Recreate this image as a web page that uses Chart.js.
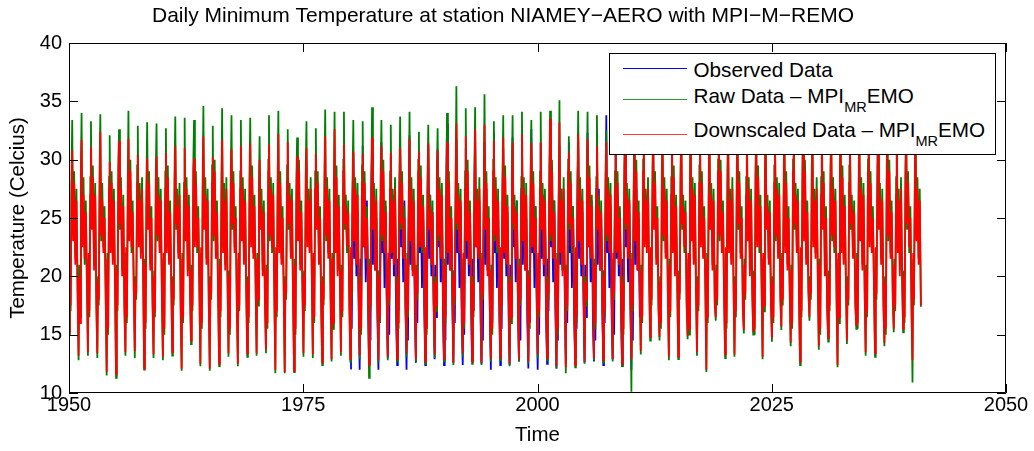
<!DOCTYPE html>
<html>
<head>
<meta charset="utf-8">
<title>Daily Minimum Temperature at station NIAMEY-AERO with MPI-M-REMO</title>
<script src="https://cdn.jsdelivr.net/npm/chart.js@4.4.1/dist/chart.umd.min.js"></script>
<style>
  html, body { margin: 0; padding: 0; background: #fff; }
  #wrap { position: relative; width: 1034px; height: 451px; }
  #legend {
    position: absolute; left: 609px; top: 53px; width: 387px; height: 102px;
    box-sizing: border-box; border: 1.5px solid #000; background: #fff;
    font-family: "Liberation Sans", Arial, Helvetica, sans-serif; font-size: 20.7px; color: #000;
  }
  #legend .swatch { position: absolute; left: 12.5px; width: 64px; height: 1px; }
  #legend .lbl { position: absolute; left: 83.5px; line-height: 20px; white-space: nowrap; }
  #legend .sub { font-size: 14.5px; position: relative; top: 9px; }
</style>
</head>
<body>
<div id="wrap">
  <canvas id="chart" width="1034" height="451"></canvas>
  <div id="legend">
    <div class="swatch" style="top:14px;background:#0000ff"></div>
    <div class="lbl" style="top:5.5px">Observed Data</div>
    <div class="swatch" style="top:45px;background:#2e962e"></div>
    <div class="lbl" style="top:32px">Raw Data – MPI<span class="sub">MR</span>EMO</div>
    <div class="swatch" style="top:80px;background:#ff3b3b"></div>
    <div class="lbl" style="top:66px">Downscaled Data – MPI<span class="sub">MR</span>EMO</div>
  </div>
</div>
<script>
// days of the year at which each row below is sampled
const sampleDays = [8, 35, 65, 100, 125, 160, 200, 245, 290, 335];
const modelStart = 1950;
const observedStart = 1980;
const xTickValues = [1950, 1975, 2000, 2025, 2050];
const yTickValues = [10, 15, 20, 25, 30, 35, 40];

// Downscaled Data - MPI_MR EMO, one row per year 1950..2040
const downscaled = [
  [15.2,21.0,17.5,27.5,30.8,23.0,28.0,21.0,26.5,18.5], [13.2,20.0,16.0,28.5,31.7,22.5,27.0,21.5,25.5,19.5],
  [13.5,22.0,17.0,27.0,31.1,24.0,28.5,20.5,27.0,17.5], [13.4,19.5,18.0,28.0,32.4,23.5,26.5,22.0,25.0,18.0],
  [11.8,21.5,15.5,27.5,29.8,22.0,28.0,21.0,26.5,19.0], [11.6,20.5,17.5,29.0,31.6,24.5,27.5,20.0,26.0,17.0],
  [13.5,22.5,16.5,26.5,31.8,23.0,29.0,22.5,25.5,18.5], [13.6,19.5,18.5,28.0,30.4,22.5,26.5,21.5,27.5,20.0],
  [12.1,21.0,16.0,27.0,30.1,24.0,28.0,20.5,25.0,17.5], [13.3,20.0,17.0,28.5,30.3,23.5,27.0,22.0,26.5,18.0],
  [13.1,22.0,15.5,27.5,30.6,22.0,28.5,21.0,25.5,19.5], [13.5,19.5,18.0,28.0,31.2,24.5,26.0,21.5,27.0,17.0],
  [12.1,21.5,16.5,26.5,31.0,23.0,27.5,20.0,26.0,18.5], [14.5,20.5,17.5,29.0,30.1,22.5,28.0,22.5,25.0,19.0],
  [12.5,22.5,16.0,27.5,32.0,24.0,27.0,21.0,26.5,17.5], [12.1,19.5,18.5,28.0,30.2,23.5,29.0,21.5,25.5,18.0],
  [12.5,21.0,17.0,27.0,31.7,22.0,26.5,20.5,27.5,20.0], [13.4,20.0,15.5,28.5,30.9,24.5,28.0,22.0,25.0,17.0],
  [12.5,22.0,17.5,27.5,31.2,23.0,27.5,21.0,26.5,18.5], [13.4,19.5,16.5,28.0,31.4,22.5,28.5,21.5,26.0,19.5],
  [13.4,21.5,18.0,26.5,30.0,24.0,26.0,20.0,25.5,17.5], [13.7,20.5,16.0,29.0,31.3,23.5,27.5,22.5,27.0,18.0],
  [12.0,22.5,17.0,27.5,32.2,22.0,28.0,21.0,25.0,19.0], [11.8,19.5,18.5,28.0,31.5,24.5,27.0,21.5,26.5,17.5],
  [11.9,21.0,15.5,27.0,30.3,23.0,29.0,20.5,25.5,18.5], [13.4,20.0,17.5,28.5,31.0,22.5,26.5,22.0,27.5,20.0],
  [13.3,22.0,16.5,27.5,30.5,24.0,28.0,21.0,25.0,17.0], [12.6,19.5,18.0,28.0,32.0,23.5,27.5,21.5,26.5,18.0],
  [12.9,21.5,16.0,26.5,32.6,22.0,28.5,20.0,26.0,19.5], [13.5,20.5,17.0,29.0,31.3,24.5,26.0,22.5,25.5,17.5],
  [12.9,22.5,18.5,27.5,30.7,23.0,27.5,21.0,27.0,18.5], [13.2,19.5,15.5,28.0,30.5,22.5,28.0,21.5,25.0,19.0],
  [12.4,21.0,17.5,27.0,31.9,24.0,27.0,20.5,26.5,17.5], [12.8,20.0,16.5,28.5,31.2,23.5,29.0,22.0,25.5,18.0],
  [13.1,22.0,18.0,27.5,30.6,22.0,26.5,21.0,27.5,20.0], [12.9,19.5,16.0,28.0,31.0,24.5,28.0,21.5,25.0,17.0],
  [13.4,21.5,17.0,26.5,31.8,23.0,27.5,20.0,26.5,18.5], [12.9,20.5,18.5,29.0,30.7,22.5,28.5,22.5,26.0,19.5],
  [12.7,22.5,15.5,27.5,31.4,24.0,26.0,21.0,25.5,17.5], [13.3,19.5,17.5,28.0,30.8,23.5,27.5,21.5,27.0,18.0],
  [12.9,21.0,16.5,27.0,31.5,22.0,28.0,20.5,25.0,19.0], [12.6,20.0,18.0,28.5,33.1,24.5,27.0,22.0,26.5,17.5],
  [13.4,22.0,16.0,27.5,32.0,23.0,29.0,21.0,25.5,18.5], [12.7,19.5,17.0,28.0,32.6,22.5,26.5,21.5,27.5,20.0],
  [12.6,21.5,18.5,26.5,33.0,24.0,28.0,20.0,25.0,17.0], [12.9,20.5,15.5,29.0,31.6,23.5,27.5,22.5,26.5,18.0],
  [13.0,22.5,17.5,27.5,31.9,22.0,28.5,21.0,26.0,19.5], [12.5,19.5,16.5,28.0,31.5,24.5,26.0,21.5,25.5,17.5],
  [12.9,21.0,18.0,27.0,32.2,23.0,27.5,20.5,27.0,18.5], [12.7,20.0,16.0,28.5,31.4,22.5,28.0,22.0,25.0,19.0],
  [13.3,22.0,17.0,27.5,31.5,24.0,27.0,21.0,26.5,17.5], [13.0,19.5,18.5,28.0,33.5,23.5,29.0,21.5,25.5,18.0],
  [12.3,21.5,15.5,26.5,33.2,22.0,26.5,20.0,27.5,20.0], [12.2,20.5,17.5,29.0,30.6,24.5,28.0,22.5,25.0,17.0],
  [12.4,22.5,16.5,27.5,32.2,23.0,27.5,21.0,26.5,18.5], [12.7,19.5,18.0,28.0,31.8,22.5,28.5,21.5,26.0,19.5],
  [13.0,21.0,16.0,27.0,31.2,24.0,26.0,20.5,25.5,17.5], [12.8,20.0,17.0,28.5,31.5,23.5,27.5,22.0,27.0,18.0],
  [12.9,22.0,18.5,27.5,31.5,22.0,28.0,21.0,25.0,19.0], [12.5,19.5,15.5,28.0,31.8,24.5,27.0,21.5,26.5,17.5],
  [12.9,21.5,17.5,26.5,32.3,23.0,29.0,20.5,25.5,18.5], [13.6,20.5,16.5,29.0,31.6,22.5,26.5,22.0,27.5,20.0],
  [14.8,22.5,18.0,27.5,32.0,24.0,28.0,21.0,25.0,17.0], [14.8,19.5,16.0,28.0,31.4,23.5,27.5,21.5,26.5,18.0],
  [13.1,21.0,17.0,27.0,32.5,22.0,28.5,20.0,26.0,19.5], [13.1,20.0,18.5,28.5,31.9,24.5,26.0,22.5,25.5,17.5],
  [14.9,22.0,15.5,27.5,32.2,23.0,27.5,21.0,27.0,18.5], [13.5,19.5,17.5,28.0,31.7,22.5,28.0,21.5,25.0,19.0],
  [12.0,21.5,16.5,26.5,32.4,24.0,27.0,20.5,26.5,17.5], [16.5,20.5,18.0,29.0,31.5,23.5,29.0,22.0,25.5,18.0],
  [13.3,22.5,16.0,27.5,32.1,22.0,26.5,21.0,27.5,20.0], [13.3,19.5,17.0,28.0,31.8,24.5,28.0,21.5,25.0,17.0],
  [15.4,21.0,18.5,27.0,32.6,23.0,27.5,20.0,26.5,18.5], [15.3,20.0,15.5,28.5,31.3,22.5,28.5,22.5,26.0,19.5],
  [13.1,22.0,17.5,27.5,32.0,24.0,26.0,21.0,25.5,17.5], [14.7,19.5,16.5,28.0,31.6,23.5,27.5,21.5,27.0,18.0],
  [15.7,21.5,18.0,26.5,32.3,22.0,28.0,20.5,25.0,19.0], [14.3,20.5,16.0,29.0,31.9,24.5,27.0,22.0,26.5,17.5],
  [12.7,22.5,17.0,27.5,32.5,23.0,29.0,21.0,25.5,18.5], [16.5,19.5,18.5,28.0,31.4,22.5,26.5,21.5,27.5,20.0],
  [14.0,21.0,15.5,27.0,32.1,24.0,28.0,20.0,25.0,17.0], [14.7,20.0,17.5,28.5,31.7,23.5,27.5,22.5,26.5,18.0],
  [12.4,22.0,16.5,27.5,32.4,22.0,28.5,21.0,26.0,19.5], [14.5,19.5,18.0,28.0,31.6,24.5,26.0,21.5,25.5,17.5],
  [15.8,21.5,16.0,26.5,32.2,23.0,27.5,20.5,27.0,18.5], [13.5,20.5,17.0,29.0,31.9,22.5,28.0,22.0,25.0,19.0],
  [13.4,22.5,18.5,27.5,32.3,24.0,27.0,21.0,26.5,17.5], [14.3,19.5,15.5,28.0,31.5,23.5,29.0,21.5,25.5,18.0],
  [15.5,21.0,17.5,27.0,32.0,22.0,26.5,20.0,27.5,20.0], [15.5,20.0,16.5,28.5,31.8,24.5,28.0,22.5,25.0,17.0],
  [12.8,22.0,18.0,27.5,32.4,23.0,27.5,21.0,26.5,17.5]
];

// Raw Data - MPI_MR EMO, one row per year 1950..2040
const raw = [
  [15.0,20.5,17.0,29.0,33.4,23.5,29.0,21.5,27.5,19.0], [12.8,21.0,16.5,29.5,34.0,23.0,28.5,21.0,26.5,19.0],
  [13.2,21.5,16.5,28.5,33.3,24.5,29.5,21.0,28.0,18.0], [13.0,20.0,17.5,29.5,33.9,23.0,28.0,22.5,26.0,18.5],
  [11.5,22.0,15.0,28.5,32.1,22.5,29.0,21.5,27.5,18.5], [11.3,21.0,17.0,30.0,32.6,24.0,28.5,20.5,27.0,17.5],
  [13.2,22.0,16.0,28.0,34.2,23.5,30.0,22.0,26.5,19.0], [13.0,20.0,18.0,29.5,32.9,23.0,28.0,22.0,28.5,19.5],
  [12.0,21.5,15.5,28.5,33.2,24.5,29.0,21.0,26.0,18.0], [13.0,20.5,16.5,29.5,33.1,23.0,28.5,22.5,27.5,18.5],
  [12.8,21.5,15.0,29.0,32.7,22.5,29.5,21.5,26.5,19.0], [13.2,20.0,17.5,29.5,33.7,24.0,27.5,22.0,28.0,17.5],
  [11.9,22.0,16.0,28.0,33.6,23.5,28.5,20.5,27.0,19.0], [14.2,21.0,17.0,30.0,33.4,23.0,29.0,22.0,26.0,18.5],
  [12.3,22.0,15.5,29.0,34.6,24.5,28.5,21.5,27.5,18.0], [11.9,20.0,18.0,29.5,32.9,23.0,30.0,22.0,26.5,18.5],
  [12.3,21.5,16.5,28.5,34.4,22.5,28.0,21.0,28.5,19.5], [13.1,20.5,15.0,29.5,33.8,24.0,29.0,22.5,26.0,17.5],
  [12.3,21.5,17.0,29.0,33.4,23.5,28.5,21.5,27.5,19.0], [13.1,20.0,16.0,29.5,33.6,23.0,29.5,22.0,27.0,19.0],
  [13.2,22.0,17.5,28.0,32.0,24.5,27.5,20.5,26.5,18.0], [13.4,21.0,15.5,30.0,33.8,23.0,28.5,22.0,28.0,18.5],
  [11.7,22.0,16.5,29.0,34.2,22.5,29.0,21.5,26.0,18.5], [11.7,20.0,18.0,29.5,32.6,24.0,28.0,22.0,27.5,18.0],
  [11.8,21.5,15.0,28.5,31.9,23.5,30.0,21.0,26.5,19.0], [13.1,20.5,17.0,29.5,33.3,23.0,27.5,22.5,28.5,19.5],
  [13.0,21.5,16.0,29.0,32.7,24.5,29.0,21.5,26.0,17.5], [12.4,20.0,17.5,29.5,34.3,23.0,28.5,22.0,27.5,18.5],
  [12.7,22.0,15.5,28.0,34.1,22.5,29.5,20.5,27.0,19.0], [13.2,21.0,16.5,30.0,34.1,24.0,27.0,22.0,26.5,18.0],
  [12.7,22.0,18.0,29.0,33.4,23.5,28.5,21.5,28.0,19.0], [12.9,20.0,15.0,29.5,33.3,23.0,29.0,22.0,26.0,18.5],
  [11.3,21.5,17.0,28.5,34.5,24.5,28.0,21.0,27.5,18.0], [12.6,20.5,16.0,29.5,33.4,23.0,30.0,22.5,26.5,18.5],
  [12.8,21.5,17.5,29.0,33.0,22.5,27.5,21.5,28.5,19.5], [12.7,20.0,15.5,29.5,33.7,24.0,29.0,22.0,26.0,17.5],
  [13.1,22.0,16.5,28.0,34.1,23.5,28.5,20.5,27.5,19.0], [12.7,21.0,18.0,30.0,32.4,23.0,29.5,22.0,27.0,19.0],
  [12.5,22.0,15.0,29.0,33.0,24.5,27.0,21.5,26.5,18.0], [13.0,20.0,17.0,29.5,32.7,23.0,28.5,22.0,28.0,18.5],
  [12.7,21.5,16.0,28.5,34.0,22.5,29.0,21.0,26.0,18.5], [12.4,20.5,17.5,29.5,36.3,24.0,28.0,22.5,27.5,18.0],
  [13.1,21.5,15.5,29.0,34.4,23.5,30.0,21.5,26.5,19.0], [12.5,20.0,16.5,29.5,34.5,23.0,27.5,22.0,28.5,19.5],
  [12.4,22.0,18.0,28.0,35.6,24.5,29.0,20.5,26.0,17.5], [12.7,21.0,15.0,30.0,33.3,23.0,28.5,22.0,27.5,18.5],
  [12.8,22.0,17.0,29.0,33.8,22.5,29.5,21.5,27.0,19.0], [12.3,20.0,16.0,29.5,33.8,24.0,27.0,22.0,26.5,18.0],
  [12.7,21.5,17.5,28.5,34.1,23.5,28.5,21.0,28.0,19.0], [12.5,20.5,15.5,29.5,33.4,23.0,29.0,22.5,26.0,18.5],
  [13.0,21.5,16.5,29.0,34.1,24.5,28.0,21.5,27.5,18.0], [12.8,20.0,18.0,29.5,34.2,23.0,30.0,22.0,26.5,18.5],
  [12.1,22.0,15.0,28.0,35.1,22.5,27.5,20.5,28.5,19.5], [11.7,21.0,17.0,30.0,32.0,24.0,29.0,22.0,26.0,17.5],
  [12.2,22.0,16.0,29.0,34.2,23.5,28.5,21.5,27.5,19.0], [12.5,20.0,17.5,29.5,34.1,23.0,29.5,22.0,27.0,19.0],
  [12.8,21.5,15.5,28.5,33.8,24.5,27.0,21.0,26.5,18.0], [12.6,20.5,16.5,29.5,32.5,23.0,28.5,22.5,28.0,18.5],
  [12.7,21.5,18.0,29.0,33.6,22.5,29.0,21.5,26.0,18.5], [12.3,20.0,15.0,29.5,34.2,24.0,28.0,22.0,27.5,18.0],
  [10.1,22.0,17.0,28.0,34.4,23.5,30.0,21.0,26.5,19.0], [13.3,21.0,16.0,30.0,33.5,23.0,27.5,22.5,28.5,19.5],
  [14.5,22.0,17.5,29.0,34.1,24.5,29.0,21.5,26.0,17.5], [14.5,20.0,15.5,29.5,33.4,23.0,28.5,22.0,27.5,18.5],
  [12.8,21.5,16.5,28.5,34.6,22.5,29.5,20.5,27.0,19.0], [12.9,20.5,18.0,29.5,33.9,24.0,27.0,22.0,26.5,18.0],
  [14.6,21.5,15.0,29.0,34.2,23.5,28.5,21.5,28.0,19.0], [13.2,20.0,17.0,29.5,33.8,23.0,29.0,22.0,26.0,18.5],
  [11.8,22.0,16.0,28.0,34.5,24.5,28.0,21.0,27.5,18.0], [16.2,21.0,17.5,30.0,33.6,23.0,30.0,22.5,26.5,18.5],
  [13.0,22.0,15.5,29.0,34.1,22.5,27.5,21.5,28.5,19.5], [13.1,20.0,16.5,29.5,33.9,24.0,29.0,22.0,26.0,17.5],
  [15.1,21.5,18.0,28.5,34.7,23.5,28.5,20.5,27.5,19.0], [15.0,20.5,15.0,29.5,33.4,23.0,29.5,22.0,27.0,19.0],
  [12.9,21.5,17.0,29.0,34.0,24.5,27.0,21.5,26.5,18.0], [14.4,20.0,16.0,29.5,33.7,23.0,28.5,22.0,28.0,18.5],
  [15.4,22.0,17.5,28.0,34.4,22.5,29.0,21.0,26.0,18.5], [14.0,21.0,15.5,30.0,34.0,24.0,28.0,22.5,27.5,18.0],
  [12.4,22.0,16.5,29.0,34.6,23.5,30.0,21.5,26.5,19.0], [16.2,20.0,18.0,29.5,33.5,23.0,27.5,22.0,28.5,19.5],
  [13.7,21.5,15.0,28.5,34.2,24.5,29.0,20.5,26.0,17.5], [14.4,20.5,17.0,29.5,33.8,23.0,28.5,22.0,27.5,18.5],
  [12.2,21.5,16.0,29.0,34.5,22.5,29.5,21.5,27.0,19.0], [14.2,20.0,17.5,29.5,33.7,24.0,27.0,22.0,26.5,18.0],
  [15.5,22.0,15.5,28.0,34.3,23.5,28.5,21.0,28.0,19.0], [13.2,21.0,16.5,30.0,34.0,23.0,29.0,22.5,26.0,18.5],
  [13.1,22.0,18.0,29.0,34.4,24.5,28.0,21.5,27.5,18.0], [14.0,20.0,15.0,29.5,33.6,23.0,30.0,22.0,26.5,18.5],
  [15.2,21.5,17.0,28.5,34.1,22.5,27.5,20.5,28.5,19.5], [15.2,20.5,16.0,29.5,33.9,24.0,29.0,22.0,26.0,17.5],
  [10.9,21.5,17.5,29.0,34.5,23.5,28.5,21.5,27.5,17.4]
];

// Observed Data, one row per year 1980..2010
const observed = [
  [12.1,20.0,15.5,27.0,30.5,21.5,27.0,20.0,25.5,17.0], [12.0,21.5,16.5,26.5,31.2,22.5,26.0,19.5,26.5,18.0],
  [12.6,19.0,14.5,27.5,30.8,21.0,27.5,20.5,25.0,16.5], [12.0,20.5,16.0,26.0,31.5,22.0,26.5,19.0,26.0,17.5],
  [13.0,19.5,15.0,27.0,30.2,21.5,27.0,20.0,25.5,16.0], [12.4,21.5,17.0,26.5,31.0,22.5,25.5,19.5,26.5,17.5],
  [12.0,19.0,14.5,27.5,32.1,21.0,27.5,20.5,25.0,16.5], [12.6,20.5,16.0,26.0,30.5,22.0,26.5,19.0,26.0,17.0],
  [12.4,20.0,15.5,27.0,31.3,21.5,27.0,20.0,25.5,18.0], [12.9,21.0,16.5,26.5,30.9,22.5,26.0,19.5,26.5,16.5],
  [12.4,19.0,14.5,27.5,33.1,21.0,27.5,20.5,25.0,17.5], [12.6,20.5,16.0,26.0,31.8,22.0,26.5,19.0,26.0,16.0],
  [12.4,19.5,15.0,27.0,31.0,21.5,27.0,20.0,25.5,17.5], [12.8,21.5,17.0,26.5,32.2,22.5,25.5,19.5,26.5,16.5],
  [12.5,19.0,14.5,27.5,31.5,21.0,27.5,20.5,25.0,17.0], [12.0,20.5,16.0,26.0,32.4,22.0,26.5,19.0,26.0,18.0],
  [12.4,20.0,15.5,27.0,31.0,21.5,27.0,20.0,25.5,16.5], [12.4,21.0,16.5,26.5,31.9,22.5,26.0,19.5,26.5,17.5],
  [12.7,19.0,14.5,27.5,30.8,21.0,27.5,20.5,25.0,16.0], [12.1,20.5,16.0,26.0,32.6,22.0,26.5,19.0,26.0,17.5],
  [12.0,19.5,15.0,27.0,31.4,21.5,27.0,20.0,25.5,16.5], [12.5,21.5,17.0,26.5,32.0,22.5,25.5,19.5,26.5,17.0],
  [12.1,19.0,14.5,27.5,31.2,21.0,27.5,20.5,25.0,18.0], [12.5,20.5,16.0,26.0,31.5,22.0,26.5,19.0,26.0,16.5],
  [13.0,20.0,15.5,27.0,31.6,21.5,27.0,20.0,25.5,17.5], [12.6,21.0,16.5,26.5,32.3,22.5,26.0,19.5,26.5,16.0],
  [12.7,19.0,14.5,27.5,31.5,21.0,27.5,20.5,25.0,17.5], [12.4,20.5,16.0,26.0,33.8,22.0,26.5,19.0,26.0,16.5],
  [12.9,19.5,15.0,27.0,31.2,21.5,27.0,20.0,25.5,17.0], [12.3,21.5,17.0,26.5,32.5,22.5,25.5,19.5,26.5,18.0],
  [12.0,19.0,14.5,27.5,31.0,21.0,27.5,20.5,25.0,16.5]
];

const FONT = '"Liberation Sans", Arial, Helvetica, sans-serif';

function toPoints(rows, startYear) {
  const pts = [];
  rows.forEach((row, i) => {
    row.forEach((v, j) => pts.push({ x: startYear + i + sampleDays[j] / 365, y: v }));
  });
  return pts;
}

// matlab style box with inward ticks on all four sides
const axesBox = {
  id: 'axesBox',
  afterDatasetsDraw(chart) {
    const { ctx, chartArea: a, scales: { x, y } } = chart;
    const len = 9;
    ctx.save();
    ctx.strokeStyle = '#000';
    ctx.lineWidth = 1;
    ctx.beginPath();
    ctx.rect(a.left + 0.5, a.top + 0.5, a.right - a.left - 1, a.bottom - a.top - 1);
    xTickValues.forEach(v => {
      const px = Math.round(x.getPixelForValue(v)) + 0.5;
      ctx.moveTo(px, a.bottom); ctx.lineTo(px, a.bottom - len);
      ctx.moveTo(px, a.top); ctx.lineTo(px, a.top + len);
    });
    yTickValues.forEach(v => {
      const py = Math.round(y.getPixelForValue(v)) + 0.5;
      ctx.moveTo(a.left, py); ctx.lineTo(a.left + len, py);
      ctx.moveTo(a.right, py); ctx.lineTo(a.right - len, py);
    });
    ctx.stroke();
    ctx.restore();
  }
};

const line = (label, data, color, order) => ({
  label, data, order,
  borderColor: color,
  borderWidth: 1.8,
  pointRadius: 0,
  tension: 0,
  fill: false
});

new Chart(document.getElementById('chart'), {
  type: 'line',
  data: {
    datasets: [
      line('Observed Data', toPoints(observed, observedStart), '#0000ff', 3),
      line('Raw Data - MPI_MR EMO', toPoints(raw, modelStart), '#008000', 2),
      line('Downscaled Data - MPI_MR EMO', toPoints(downscaled, modelStart), '#ff0000', 1)
    ]
  },
  options: {
    responsive: false,
    animation: false,
    devicePixelRatio: 1,
    events: [],
    layout: { padding: { left: 0, right: 28, top: 0, bottom: 0 } },
    plugins: {
      legend: { display: false },
      tooltip: { enabled: false },
      title: {
        display: true,
        text: 'Daily Minimum Temperature at station NIAMEY\u2212AERO with MPI\u2212M\u2212REMO',
        color: '#000',
        font: { family: FONT, size: 21, weight: 'normal' },
        padding: { top: 4, bottom: 13.8 }
      }
    },
    scales: {
      x: {
        type: 'linear',
        min: 1950, max: 2050,
        afterBuildTicks: s => { s.ticks = xTickValues.map(v => ({ value: v })); },
        afterFit: s => { s.height = 58; },
        grid: { display: false, drawTicks: false },
        border: { display: false },
        ticks: { color: '#000', font: { family: FONT, size: 20 }, padding: 0, maxRotation: 0, callback: v => String(v) },
        title: { display: true, text: 'Time', color: '#000', font: { family: FONT, size: 20.5 }, padding: { top: 0, bottom: 3 } }
      },
      y: {
        min: 10, max: 40,
        afterBuildTicks: s => { s.ticks = yTickValues.map(v => ({ value: v })); },
        afterFit: s => { s.width = 69; },
        grid: { display: false, drawTicks: false },
        border: { display: false },
        ticks: { color: '#000', font: { family: FONT, size: 20 }, padding: 7 },
        title: { display: true, text: 'Temperature (Celcius)', color: '#000', font: { family: FONT, size: 20.5 }, padding: { top: 6, bottom: 0 } }
      }
    }
  },
  plugins: [axesBox]
});
</script>
</body>
</html>
